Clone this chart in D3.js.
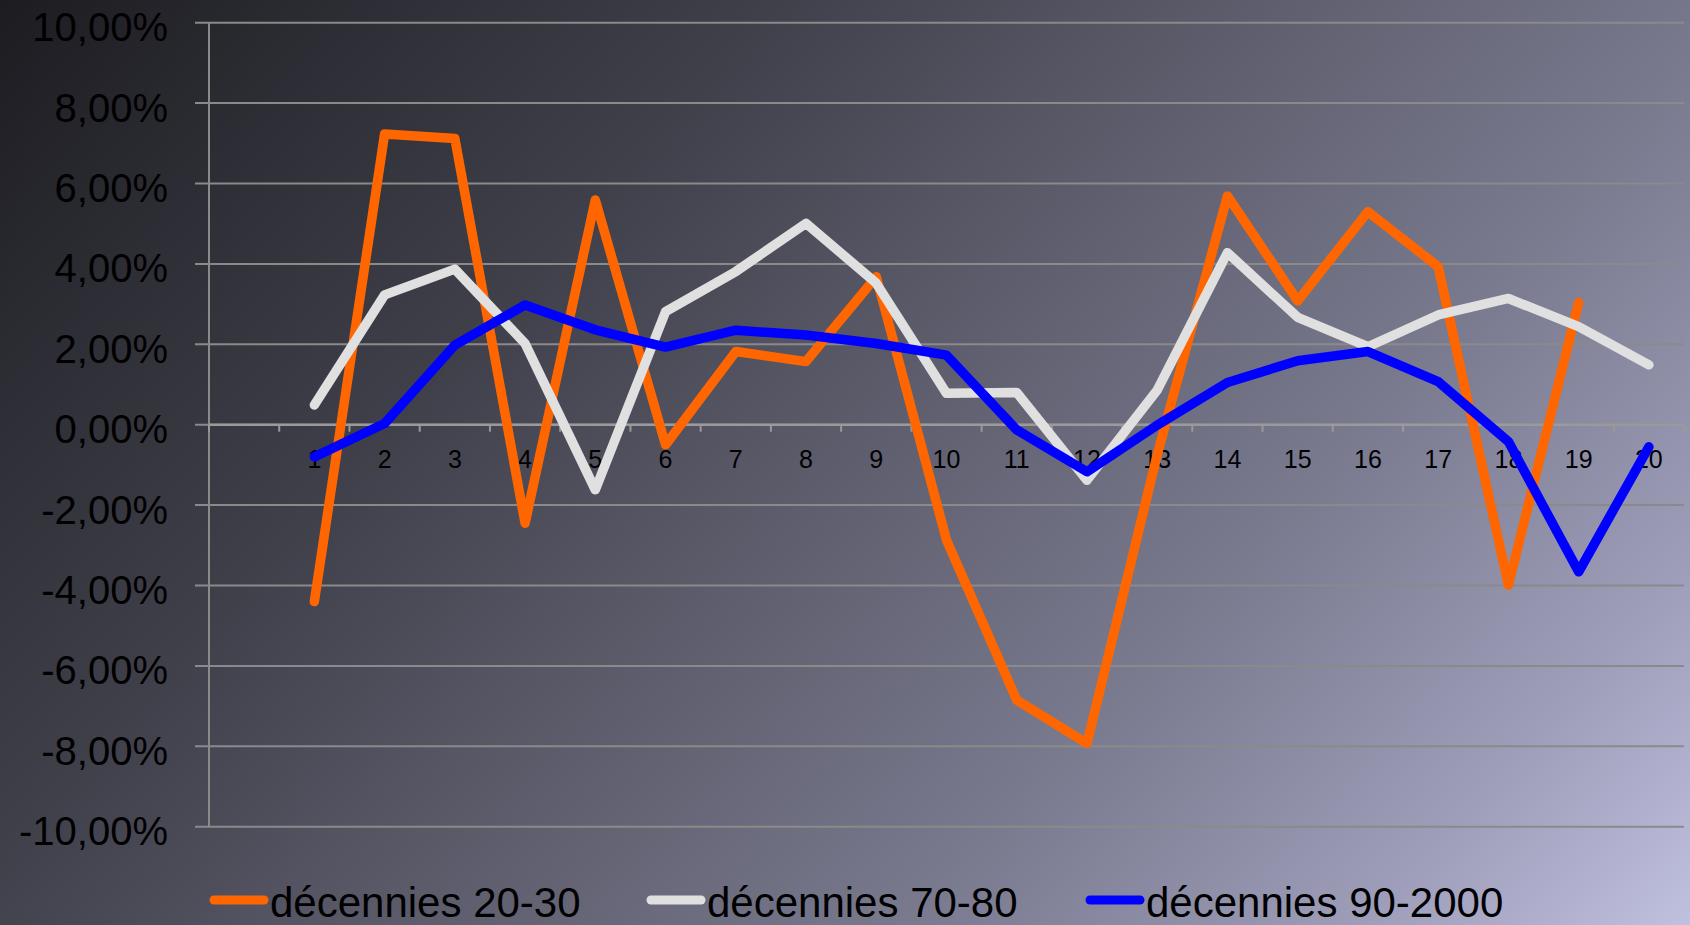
<!DOCTYPE html>
<html>
<head>
<meta charset="utf-8">
<script src="https://cdn.jsdelivr.net/npm/d3@7"></script>
<style>
  html, body { margin: 0; padding: 0; overflow: hidden; background: #2a2a30; }
  svg { display: block; font-family: "Liberation Sans", Arial, sans-serif; }
</style>
</head>
<body>
<svg id="chart" width="1690" height="925"></svg>
<script>
// ---- data ----
const categories = ["1","2","3","4","5","6","7","8","9","10","11","12","13","14","15","16","17","18","19","20"];
const seriesNames = ["décennies 20-30", "décennies 70-80", "décennies 90-2000"];
const decades2030 = [-4.40, 7.23, 7.12, -2.45, 5.59, -0.50, 1.82, 1.57, 3.68, -2.87, -6.85, -7.93, -0.75, 5.69, 3.08, 5.30, 3.93, -3.99, 3.04, null];
const decades7080 = [0.49, 3.23, 3.87, 2.02, -1.62, 2.81, 3.81, 5.01, 3.52, 0.78, 0.80, -1.38, 0.86, 4.28, 2.67, 1.94, 2.73, 3.14, 2.44, 1.49];
const decades9000 = [-0.80, 0.03, 1.98, 2.98, 2.36, 1.93, 2.35, 2.23, 2.02, 1.73, -0.13, -1.17, -0.01, 1.05, 1.59, 1.82, 1.07, -0.42, -3.66, -0.55];
const yTicks = [-10, -8, -6, -4, -2, 0, 2, 4, 6, 8, 10];
const seriesColors = ["#ff6600", "#e0e0e0", "#0000ff"];

// ---- layout ----
const W = 1690, H = 925;
const plot = { left: 209, right: 1684, top: 22.7, bottom: 826.7 };
const svg = d3.select("#chart");

// background gradient
const defs = svg.append("defs");
const grad = defs.append("linearGradient").attr("id", "bg")
  .attr("gradientUnits", "userSpaceOnUse")
  .attr("x1", 0).attr("y1", 0).attr("x2", 1420).attr("y2", 1290);
[[0, "#1c1c21"], [0.3, "#40404b"], [0.5, "#5f5f6f"], [0.7, "#7e7e94"], [0.85, "#9e9eba"], [1, "#c6c6e6"]]
  .forEach(([o, c]) => grad.append("stop").attr("offset", o).attr("stop-color", c));
svg.append("rect").attr("width", W).attr("height", H).attr("fill", "url(#bg)");

// scales: one empty slot before category 1
const x = d3.scaleLinear().domain([-0.5, categories.length + 0.5]).range([plot.left, plot.right]);
const y = d3.scaleLinear().domain([-10, 10]).range([plot.bottom, plot.top]);

const fmt = v => (v < 0 ? "-" : "") + d3.format(".2f")(Math.abs(v)).replace(".", ",") + "%";

// gridlines + y labels
const gy = svg.append("g");
gy.selectAll("line").data(yTicks).join("line")
  .attr("x1", plot.left - 14).attr("x2", plot.right)
  .attr("y1", d => y(d)).attr("y2", d => y(d))
  .attr("stroke", "#8a8a8a").attr("stroke-width", 2);
gy.selectAll("text").data(yTicks).join("text")
  .attr("x", 168).attr("y", d => y(d) + 18.5)
  .attr("text-anchor", "end").attr("font-size", 40).attr("fill", "#000")
  .text(fmt);

// y axis line
svg.append("line").attr("x1", plot.left).attr("x2", plot.left)
  .attr("y1", plot.top).attr("y2", plot.bottom)
  .attr("stroke", "#8a8a8a").attr("stroke-width", 2);

// x axis at zero
const y0 = y(0);
svg.append("line").attr("x1", plot.left).attr("x2", plot.right)
  .attr("y1", y0).attr("y2", y0).attr("stroke", "#9a9a9a").attr("stroke-width", 2.5);
const tickPos = d3.range(0, categories.length + 2).map(i => i - 0.5);
svg.append("g").selectAll("line").data(tickPos).join("line")
  .attr("x1", d => x(d)).attr("x2", d => x(d))
  .attr("y1", y0).attr("y2", y0 + 7)
  .attr("stroke", "#9a9a9a").attr("stroke-width", 2);
svg.append("g").selectAll("text").data(categories).join("text")
  .attr("x", (d, i) => x(i + 1)).attr("y", y0 + 43)
  .attr("text-anchor", "middle").attr("font-size", 25).attr("fill", "#000")
  .text(d => d);

// lines
const allSeries = [decades2030, decades7080, decades9000];
const line = d3.line()
  .defined(d => d != null)
  .x((d, i) => x(i + 1))
  .y(d => y(d));
svg.append("g").selectAll("path").data(allSeries).join("path")
  .attr("d", line)
  .attr("fill", "none")
  .attr("stroke", (d, i) => seriesColors[i])
  .attr("stroke-width", 9.5)
  .attr("stroke-linejoin", "round")
  .attr("stroke-linecap", "round");

// legend
const legendX = [214, 651, 1090];
const lg = svg.append("g").selectAll("g").data(seriesNames).join("g")
  .attr("transform", (d, i) => `translate(${legendX[i]},900)`);
lg.append("line").attr("x1", 0).attr("x2", 50).attr("y1", 0).attr("y2", 0)
  .attr("stroke", (d, i) => seriesColors[i]).attr("stroke-width", 9).attr("stroke-linecap", "round");
lg.append("text").attr("x", 56).attr("y", 17).attr("font-size", 42).attr("fill", "#000")
  .text(d => d);
</script>
</body>
</html>
